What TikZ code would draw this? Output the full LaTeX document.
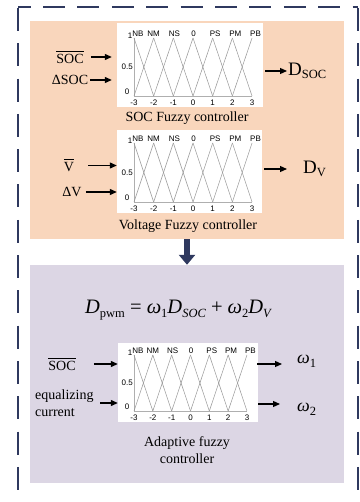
\documentclass[tikz,border=0pt]{standalone}
\usepackage{fontspec}
\setmainfont{Liberation Serif}
\newfontfamily\plotfont{Liberation Sans}
\usetikzlibrary{arrows.meta}
\definecolor{peach}{RGB}{249,214,188}
\definecolor{lilac}{RGB}{220,214,228}
\definecolor{navy}{RGB}{47,57,95}
\definecolor{mfgray}{RGB}{150,150,150}
\definecolor{axgray}{RGB}{175,175,175}
\newcommand\mysub[1]{\raisebox{-0.22em}{\fontsize{12.5}{14}\selectfont #1}}
\newcommand\barred[1]{$\overline{\mbox{\rule{0pt}{11pt}#1}}$}
\newcommand\fuzzy[5]{%
  \draw[axisline] (#1,#4) -- (#1,#3) -- ({#1+6*#2},#3);
  \foreach \i in {0,...,5}{
    \draw[mfline] ({#1+\i*#2},#4) -- ({#1+(\i+1)*#2},#3);
    \draw[mfline] ({#1+(\i+1)*#2},#4) -- ({#1+\i*#2},#3);
  }
  \foreach \i/\lab in {0/-3,1/-2,2/-1,3/0,4/1,5/2,6/3}
    \node[tick] (#5x\i) at ({#1+\i*#2},{#3+6.5}) {\lab};
  \foreach \i/\lab/\o in {0/NB/4,1/NM/0,2/NS/1,3/0/0.5,4/PS/2.5,5/PM/3,6/PB/3.5}
    \node[tick] (#5l\i) at ({#1+\i*#2+\o},{#4-4}) {\lab};
  \node[tick] (#5one) at ({#1-4},{#4-2.5}) {1};
  \node[tick,anchor=east] (#5half) at ({#1-1},{(#3+#4)/2}) {0.5};
  \node[tick] (#5zero) at ({#1-7},{#3-4.5}) {0};
}
\begin{document}
\begin{tikzpicture}[x=1pt,y=-1pt,
  txt/.style={inner sep=0pt,font=\fontsize{14}{17}\selectfont},
  tick/.style={inner sep=0pt,font=\plotfont\fontsize{8}{9}\selectfont},
  mfline/.style={draw=mfgray,line width=0.5pt},
  axisline/.style={draw=axgray,line width=0.8pt},
  plotbg/.style={fill=white,draw=none,inner sep=0pt},
  arr/.style={line width=1.2pt,-{Triangle[length=7pt,width=6pt]}},
  border/.style={draw=navy,line width=2pt}]
\useasboundingbox (0,0) rectangle (359,502);
\clip (0,0) rectangle (359,502);
% outer dashed border
\coordinate (tl) at (18,7);
\coordinate (tr) at (358,7);
\coordinate (bl) at (18,520);
\coordinate (br) at (358,520);
\draw[border,dash pattern=on 23pt off 12.3pt,dash phase=-1pt] (tl) -- (bl);
\draw[border,dash pattern=on 23pt off 12.3pt,dash phase=-1pt] (tr) -- (br);
\draw[border,dash pattern=on 22pt off 12.4pt,dash phase=9.4pt] (tl) -- (tr);
% boxes
\node[fill=peach,inner sep=0pt,minimum width=314pt,minimum height=218pt] (obox) at (187,130) {};
\node[fill=lilac,inner sep=0pt,minimum width=314pt,minimum height=218pt] (pbox) at (187,374) {};
\draw[navy,line width=6.5pt,-{Triangle[length=10pt,width=16pt]}] (obox.south) -- (pbox.north);
% ---- SOC fuzzy controller
\node[plotbg,minimum width=146pt,minimum height=84pt] (p1) at (190,65) {};
\fuzzy{134}{19.67}{96}{38}{a}
\node[txt] (soc1) at (70,57) {\barred{SOC}};
\node[txt] (dsoc1) at (70,80) {ΔSOC};
\draw[arr,shorten <=7pt,shorten >=5pt] (soc1.east) -- (soc1.east -| p1.west);
\draw[arr,shorten <=2pt,shorten >=5pt] (dsoc1.east) -- (dsoc1.east -| p1.west);
\node[txt,anchor=west] (dsocout) at (288,71) {{\fontsize{19}{20}\selectfont D}\mysub{SOC}};
\draw[arr,shorten <=2pt,shorten >=1pt] (p1.east |- dsocout.west) -- (dsocout.west);
\node[txt] (t1) at (187,118) {SOC Fuzzy controller};
% ---- Voltage fuzzy controller
\node[plotbg,minimum width=145pt,minimum height=83pt] (p2) at (189.5,171.5) {};
\fuzzy{134}{19.67}{202}{143}{b}
\node[txt] (v) at (69,165.5) {\barred{V}};
\node[txt] (dv) at (72,192) {ΔV};
\draw[arr,shorten <=14pt] (v.east) -- (v.east -| p2.west);
\draw[arr,shorten <=4pt] (dv.east) -- (dv.east -| p2.west);
\node[txt,anchor=west] (dvout) at (303,169) {{\fontsize{19}{20}\selectfont D}\mysub{V}};
\draw[arr,shorten <=2pt,shorten >=16pt] (p2.east |- dvout.west) -- (dvout.west);
\node[txt] (t2) at (188,226) {Voltage Fuzzy controller};
% ---- Adaptive fuzzy controller
\node[txt] (eq) at (178,310) {\fontsize{20.5}{22}\selectfont\itshape D\mysub{\upshape pwm} \upshape= \itshape ω\mysub{\upshape 1}D\mysub{SOC} \upshape+ \itshape ω\mysub{\upshape 2}D\mysub{V}};
\node[plotbg,minimum width=140pt,minimum height=79pt] (p3) at (188,382.5) {};
\fuzzy{134}{18.83}{411}{355}{c}
\node[txt] (soc3) at (62,364) {\barred{SOC}};
\draw[arr,shorten <=18pt] (soc3.east) -- (soc3.east -| p3.west);
\node[txt,align=left,anchor=north west] (eqc) at (35,390) {equalizing\\current};
\coordinate (eqa) at (100,403);
\draw[arr] (eqa) -- (eqa -| p3.west);
\node[txt,anchor=west] (w1) at (297,361) {\fontsize{18}{20}\selectfont\itshape ω\mysub{\upshape 1}};
\node[txt,anchor=west] (w2) at (297,409) {\fontsize{18}{20}\selectfont\itshape ω\mysub{\upshape 2}};
\coordinate (w1a) at (282,364);
\coordinate (w2a) at (280,404);
\draw[arr,shorten <=-1pt] (p3.east |- w1a) -- (w1a);
\draw[arr] (p3.east |- w2a) -- (w2a);
\node[txt,align=center] (t3) at (187,450) {Adaptive fuzzy\\controller};
\end{tikzpicture}
\end{document}
